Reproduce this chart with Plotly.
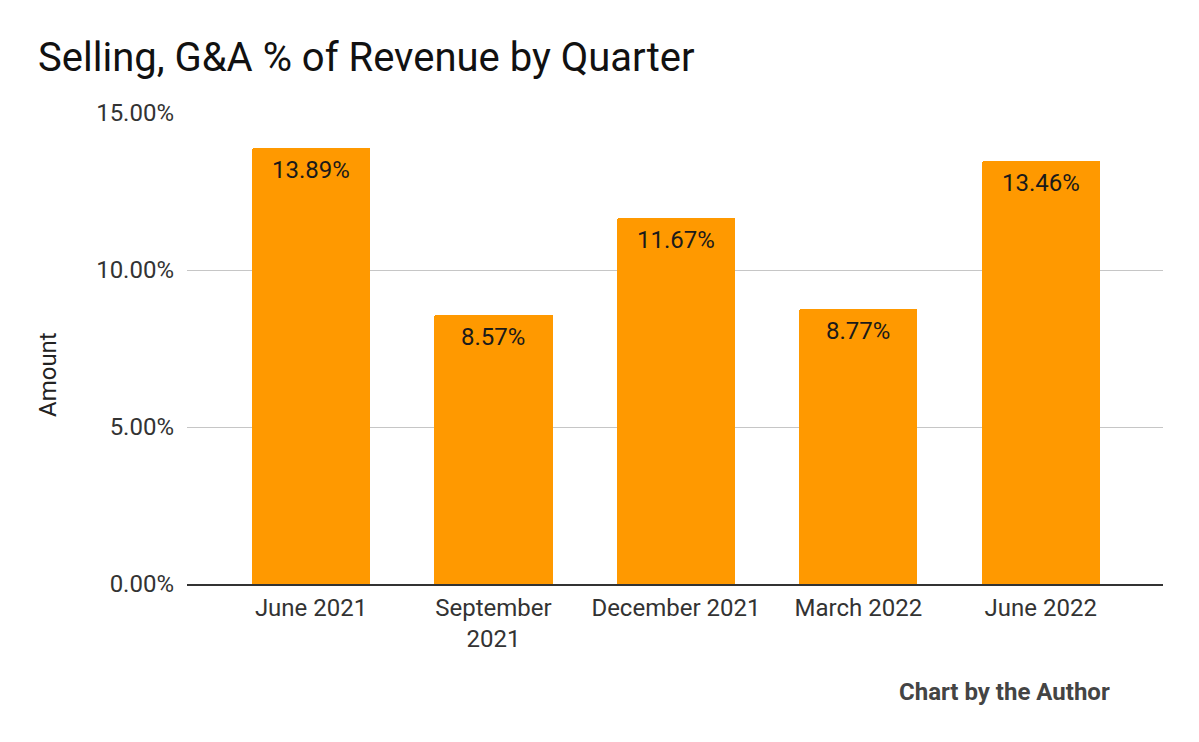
import plotly.graph_objects as go

categories = ["June 2021", "September<br>2021", "December 2021", "March 2022", "June 2022"]
values = [13.89, 8.57, 11.67, 8.77, 13.46]
labels = ["13.89%", "8.57%", "11.67%", "8.77%", "13.46%"]
tick_vals = [0, 5, 10, 15]
tick_text = ["0.00%", "5.00%", "10.00%", "15.00%"]

OFF = 8  # page body margin
W, H = 1199 - OFF, 742 - OFF
L, R, T, B = 187 - OFF, 36, 113 - OFF, 158
plot_w = W - L - R
plot_h = H - T - B
PLOT_BOTTOM = OFF + H - B  # page pixel of y=0


def px_to_paper_x(px):
    return (px - (OFF + L)) / plot_w


def px_to_paper_y(py):
    return (PLOT_BOTTOM - py) / plot_h


fig = go.Figure()
fig.add_trace(go.Bar(
    x=list(range(len(categories))),
    y=values,
    marker=dict(color="#FF9900", cornerradius=2, line=dict(width=0)),
    width=0.647,
    hoverinfo="skip",
))

annotations = []
for i, (v, t) in enumerate(zip(values, labels)):
    annotations.append(dict(
        x=i, y=v, xref="x", yref="y", text=t, showarrow=False,
        yanchor="top", yshift=-6,
        font=dict(family="Roboto", size=24, color="#1a1a1a"),
    ))

annotations.append(dict(
    x=px_to_paper_x(48), y=px_to_paper_y(375), xref="paper", yref="paper",
    text="Amount", showarrow=False, textangle=-90,
    xanchor="center", yanchor="middle",
    font=dict(family="Roboto", size=24, color="#222222"),
))

annotations.append(dict(
    x=px_to_paper_x(1112), y=px_to_paper_y(692),
    xref="paper", yref="paper", text="<b>Chart by the Author</b>",
    showarrow=False, xanchor="right", yanchor="middle",
    font=dict(family="Roboto", size=24, color="#444444"),
))

fig.update_layout(
    width=W, height=H,
    margin=dict(l=L, r=R, t=T, b=B, pad=0),
    paper_bgcolor="white", plot_bgcolor="white",
    font=dict(family="Roboto", color="#333333"),
    title=dict(
        text="Selling, G&A % of Revenue by Quarter",
        x=(38 - OFF) / W, xanchor="left", xref="container",
        y=1 - (57 - OFF) / H, yanchor="middle", yref="container",
        font=dict(family="Roboto", size=40, color="#111111"),
    ),
    showlegend=False,
    bargap=0,
    annotations=annotations,
    xaxis=dict(
        range=[-0.68, 4.67],
        tickmode="array",
        tickvals=list(range(len(categories))),
        ticktext=categories,
        showgrid=False,
        zeroline=False,
        showline=True, linecolor="#333333", linewidth=2,
        ticks="", ticklabelstandoff=1,
        tickfont=dict(family="Roboto", size=24, color="#333333"),
        fixedrange=True,
    ),
    yaxis=dict(
        range=[0, 15],
        tickmode="array",
        tickvals=tick_vals,
        ticktext=tick_text,
        showgrid=True, gridcolor="#c6c6c6", gridwidth=1,
        zeroline=False,
        showline=False,
        ticks="", ticklabelstandoff=12,
        tickfont=dict(family="Roboto", size=24, color="#333333"),
        fixedrange=True,
    ),
)

fig.write_html("out.html", config={"displayModeBar": False})
